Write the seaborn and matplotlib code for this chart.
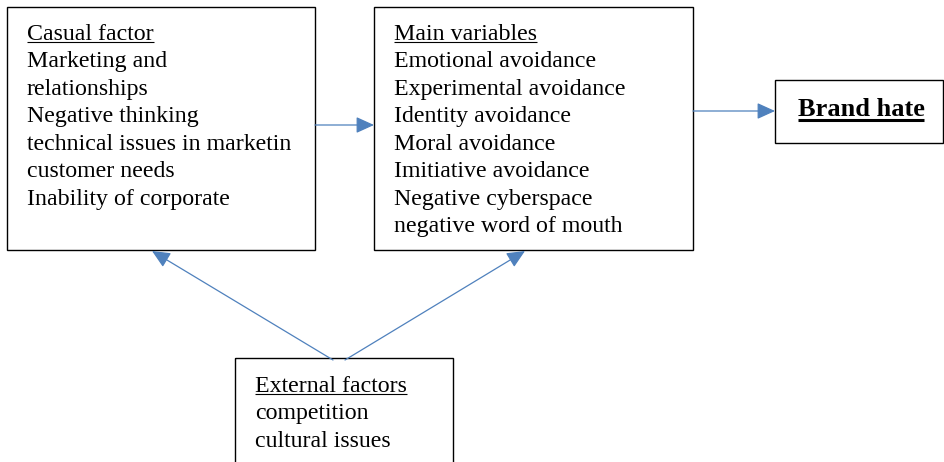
import matplotlib
matplotlib.use("Agg")
import matplotlib.pyplot as plt
import seaborn as sns
from matplotlib.patches import Rectangle, FancyArrowPatch

# ---- content ----
casual_title = "Casual factor"
casual_items = ["Marketing and", "relationships", "Negative thinking",
                "technical issues in marketin", "customer needs",
                "Inability of corporate"]
main_title = "Main variables"
main_items = ["Emotional avoidance", "Experimental avoidance", "Identity avoidance",
              "Moral avoidance", "Imitiative avoidance", "Negative cyberspace",
              "negative word of mouth"]
external_title = "External factors"
external_items = ["competition", "cultural issues"]
outcome_title = "Brand hate"

sns.set_theme(style="white")
plt.rcParams['font.family'] = ['Liberation Serif', 'DejaVu Serif']

W, H = 944, 462
fig = plt.figure(figsize=(W / 100, H / 100), dpi=100)
ax = fig.add_axes([0, 0, 1, 1])
ax.set_xlim(0, W)
ax.set_ylim(H, 0)
ax.set_axis_off()

FS = 17.2
LS = 27.45
ARROW = "#4F81BD"

def box(x0, y0, x1, y1):
    ax.add_patch(Rectangle((x0, y0), x1 - x0, y1 - y0, fill=False,
                           edgecolor="black", lw=1.0))

fig.canvas.draw()
renderer = fig.canvas.get_renderer()
inv = ax.transData.inverted()

def underline(t, offset, lw):
    bb = t.get_window_extent(renderer=renderer)
    (xa, _), (xb, _) = inv.transform([(bb.x0, bb.y0), (bb.x1, bb.y0)])
    y = t.get_position()[1] + offset
    ax.plot([xa, xb], [y, y], color="black", lw=lw, solid_capstyle="butt")

def block(x, y0, title, items):
    t = ax.text(x, y0, title, fontsize=FS, va="baseline", ha="left", color="black")
    underline(t, 2.4, 0.8)
    for i, s in enumerate(items):
        ax.text(x, y0 + LS * (i + 1), s, fontsize=FS, va="baseline", ha="left",
                color="black")

# boxes
box(7, 7, 315, 250)
box(374, 7, 693, 250)
box(775, 80, 943, 143)
box(235, 358, 453, 475)

block(27, 40, casual_title, casual_items)
block(394, 40, main_title, main_items)
block(255, 392, external_title, external_items)

t = ax.text(861, 116, outcome_title, fontsize=19, fontweight="bold",
            va="baseline", ha="center", color="black")
underline(t, 4.0, 2.2)

def arrow(a, b):
    ax.add_patch(FancyArrowPatch(a, b, arrowstyle="-|>,head_length=11,head_width=5",
                                 mutation_scale=1, color=ARROW, lw=0.9,
                                 shrinkA=0, shrinkB=0))

arrow((315, 125), (374, 125))
arrow((693, 111), (775, 111))
arrow((333, 360), (152, 251))
arrow((345, 360), (525, 251))

fig.savefig("out.png", dpi=100)
